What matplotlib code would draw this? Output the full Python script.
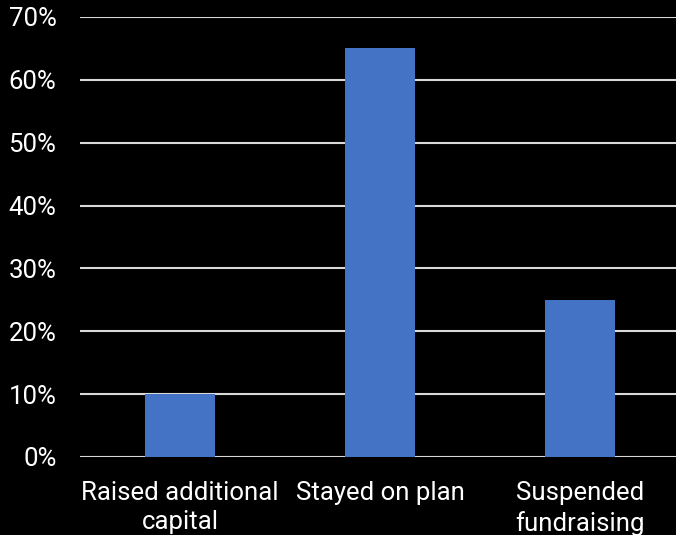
import matplotlib
matplotlib.use("Agg")
import matplotlib.pyplot as plt
from matplotlib.ticker import FuncFormatter

# survey responses: share of companies per fundraising action
categories = ["Raised additional\ncapital", "Stayed on plan", "Suspended\nfundraising"]
shares = [10, 65, 25]
yticks = [0, 10, 20, 30, 40, 50, 60, 70]

plt.rcParams['font.family'] = ['Roboto', 'DejaVu Sans']

fig = plt.figure(figsize=(6.76, 5.35), dpi=100, facecolor="black")
ax = fig.add_axes([80 / 676, (535 - 457) / 535, 596 / 676, 440 / 535])
ax.set_facecolor("black")

ax.bar(range(len(categories)), shares, width=0.35, color="#4472C4", zorder=3)

ax.set_ylim(0, 70)
ax.set_xlim(-0.5, 2.48)
ax.set_yticks(yticks)
ax.yaxis.set_major_formatter(FuncFormatter(lambda v, p: "{:d}%".format(int(v))))
ax.set_xticks(range(len(categories)))
ax.set_xticklabels(categories, linespacing=1.3)

ax.grid(axis="y", color="#d9d9d9", linewidth=1.5, zorder=0)
ax.tick_params(axis="both", length=0, colors="white", labelsize=18.5)
ax.tick_params(axis="y", pad=17)
ax.tick_params(axis="x", pad=17)
for s in ax.spines.values():
    s.set_visible(False)

fig.savefig("out.png", dpi=100, facecolor="black")
